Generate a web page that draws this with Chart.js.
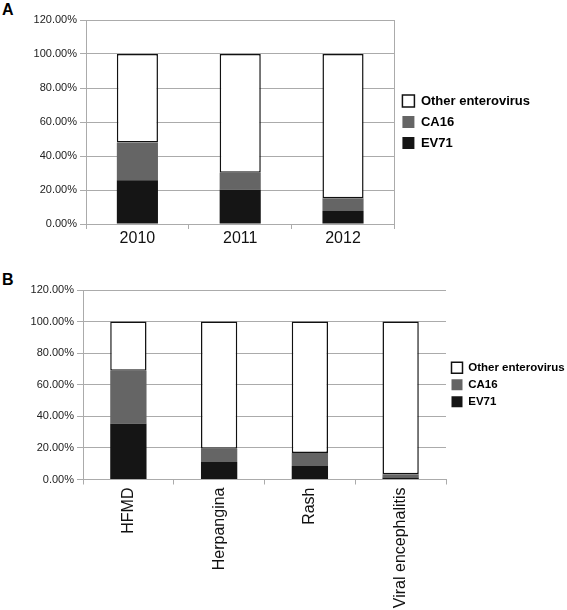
<!DOCTYPE html>
<html>
<head>
<meta charset="utf-8">
<script src="https://cdn.jsdelivr.net/npm/chart.js@4.4.1/dist/chart.umd.min.js"></script>
<style>
  body { margin: 0; width: 567px; height: 610px; position: relative; background: #fff; overflow: hidden;
         font-family: "Liberation Sans", Arial, sans-serif; }
  .panel { position: absolute; left: 0; width: 567px; }
  .tag { position: absolute; left: 2px; font-weight: bold; font-size: 16px; color: #000; }
</style>
</head>
<body>
<div class="tag" style="top:1px">A</div>
<div class="panel" style="top:0;height:255px"><canvas id="chartA"></canvas></div>
<div class="tag" style="top:271px">B</div>
<div class="panel" style="top:260px;height:350px"><canvas id="chartB"></canvas></div>
<script>
'use strict'

// panel A: share by year (%)
let yearLabels = ['2010', '2011', '2012'];
let yearEV71 = [25.7, 20.2, 7.6];
let yearCA16 = [22.2, 10.0, 7.6];
let yearOther = [52.1, 69.8, 84.8];

// panel B: share by clinical diagnosis (%)
let diseaseLabels = ['HFMD', 'Herpangina', 'Rash', 'Viral encephalitis'];
let diseaseEV71 = [35.3, 11.1, 8.6, 1.2];
let diseaseCA16 = [33.6, 8.4, 8.2, 2.1];
let diseaseOther = [31.1, 80.5, 83.2, 96.7];

const FONT = '"Liberation Sans", Arial, sans-serif';
const GRID = '#ababab';
Chart.defaults.font.family = FONT;
Chart.defaults.color = '#222';

function makeData(labels, ev, ca, other) {
    return {
        labels: labels,
        datasets: [
            { label: 'EV71', data: ev, backgroundColor: '#151515', borderWidth: 0 },
            { label: 'CA16', data: ca, backgroundColor: '#656565', borderWidth: 0 },
            { label: 'Other enterovirus', data: other, backgroundColor: '#ffffff',
              borderColor: '#111', borderWidth: 1.5, borderSkipped: false }
        ]
    };
}

function makeConfig(data, o) {
    const scales = {
        x: {
            stacked: true,
            grid: { drawOnChartArea: false, color: GRID, tickLength: 5, offset: true },
            border: { color: GRID },
            ticks: { font: { size: 16 }, color: '#111', padding: o.xPad,
                     minRotation: o.rot, maxRotation: o.rot, autoSkip: false },
            afterFit: s => { s.height = o.xHeight; }
        },
        y: {
            stacked: true,
            min: 0, max: 120,
            grid: { color: GRID, tickLength: 6 },
            border: { color: GRID },
            ticks: { stepSize: 20, font: { size: 11 }, padding: 3,
                     callback: v => v.toFixed(2) + '%' },
            afterFit: s => { s.width = o.yWidth; }
        }
    };
    if (o.rightBorder) {
        scales.y2 = {
            position: 'right', min: 0, max: 120,
            grid: { drawOnChartArea: false, drawTicks: false },
            border: { color: GRID },
            ticks: { display: false },
            afterFit: s => { s.width = 0; }
        };
    }
    return {
        type: 'bar',
        data: data,
        options: {
            responsive: true,
            maintainAspectRatio: false,
            animation: false,
            datasets: { bar: { categoryPercentage: 1, barPercentage: 0.4 } },
            layout: { padding: { top: o.top, right: o.right, left: 0, bottom: 0 } },
            plugins: {
                tooltip: { enabled: false },
                legend: {
                    position: 'right',
                    fullSize: false,
                    reverse: true,
                    maxWidth: o.legMax,
                    labels: {
                        boxWidth: o.box, boxHeight: o.box, padding: o.legPad, color: '#000',
                        font: { size: o.legFont, weight: 'bold' }
                    }
                }
            },
            scales: scales
        }
    };
}

const chartA = new Chart(
    document.getElementById('chartA'),
    makeConfig(makeData(yearLabels, yearEV71, yearCA16, yearOther),
        { top: 20, right: 27, xHeight: 31, xPad: 0, rot: 0, yWidth: 86, rightBorder: true,
          box: 12, legPad: 8, legFont: 13, legMax: 200 })
);

const chartB = new Chart(
    document.getElementById('chartB'),
    makeConfig(makeData(diseaseLabels, diseaseEV71, diseaseCA16, diseaseOther),
        { top: 30, right: 0, xHeight: 130.5, xPad: 3, rot: 90, yWidth: 83, rightBorder: false,
          box: 11, legPad: 5.5, legFont: 11.5, legMax: 121 })
);
</script>
</body>
</html>
